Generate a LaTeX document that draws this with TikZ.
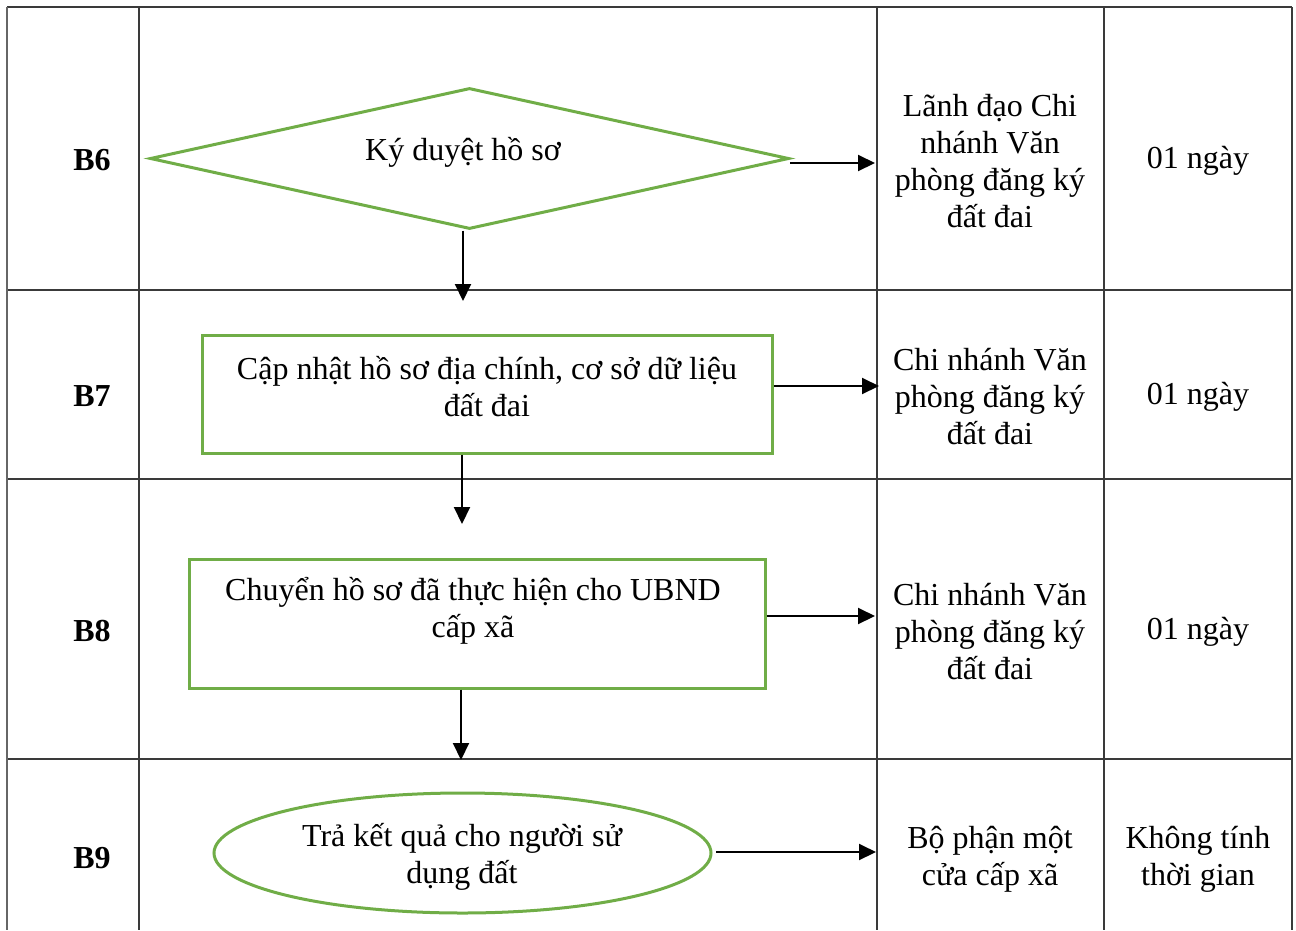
\documentclass[tikz,border=0pt]{standalone}
\usepackage{fontspec}
\setmainfont{Liberation Serif}
\usetikzlibrary{shapes.geometric,arrows.meta}
\definecolor{flowgreen}{HTML}{70AD47}
\definecolor{gridgray}{HTML}{3A3A3A}
\tikzset{
  txt/.style={font=\fontsize{32}{37}\selectfont, align=center, inner sep=0pt},
  steplabel/.style={font=\fontsize{32}{37}\selectfont\bfseries, inner sep=0pt},
  flowbox/.style={draw=flowgreen, line width=3pt, rectangle, inner sep=0pt},
  gridline/.style={draw=gridgray, line width=1.6pt},
  arr/.style={draw=black, line width=2pt, -{Triangle[length=17pt,width=16pt]}},
}
\begin{document}
\begin{tikzpicture}[x=1pt,y=-1pt]
\useasboundingbox (0,0) rectangle (1296,930);
% table grid
\draw[gridline] (7,7) -- (1292,7);
\draw[gridline] (7,290) -- (1292,290);
\draw[gridline] (7,479) -- (1292,479);
\draw[gridline] (7,759) -- (1292,759);
\draw[gridline, line width=2.2pt, draw=gray!80!black] (7,7) -- (7,930);
\draw[gridline] (139,7) -- (139,930);
\draw[gridline] (877,7) -- (877,930);
\draw[gridline] (1104,7) -- (1104,930);
\draw[gridline] (1292,7) -- (1292,930);

% step labels
\node[steplabel] (l6) at (92,160) {B6};
\node[steplabel] (l7) at (92,396) {B7};
\node[steplabel] (l8) at (92,631) {B8};
\node[steplabel] (l9) at (92,858) {B9};

% flow shapes
\node[diamond, draw=flowgreen, line width=3pt, minimum width=639pt, minimum height=141pt, inner sep=0pt] (d6) at (469.5,158.5) {};
\node[txt] (t6) at (463,152) {Ký duyệt hồ sơ};

\node[flowbox, minimum width=570pt, minimum height=118pt] (b7) at (487,394) {};
\node[txt] (t7) at (487,387) {Cập nhật hồ sơ địa chính, cơ sở dữ liệu\\đất đai};

\node[flowbox, minimum width=576pt, minimum height=129pt] (b8) at (477,623.5) {};
\node[txt] (t8) at (473,611) {Chuyển hồ sơ đã thực hiện cho UBND\\cấp xã};

\node[ellipse, draw=flowgreen, line width=3pt, minimum width=497pt, minimum height=120pt, inner sep=0pt] (e9) at (462.5,853) {};
\node[txt] (t9) at (462,857) {Trả kết quả cho người sử\\dụng đất};

% responsible units
\node[txt] (r6) at (990,161) {Lãnh đạo Chi\\nhánh Văn\\phòng đăng ký\\đất đai};
\node[txt] (r7) at (990,397) {Chi nhánh Văn\\phòng đăng ký\\đất đai};
\node[txt] (r8) at (990,632) {Chi nhánh Văn\\phòng đăng ký\\đất đai};
\node[txt] (r9) at (990,859) {Bộ phận một\\cửa cấp xã};

% durations
\node[txt] (p6) at (1198,161) {01 ngày};
\node[txt] (p7) at (1198,397) {01 ngày};
\node[txt] (p8) at (1198,632) {01 ngày};
\node[txt] (p9) at (1198,859) {Không tính\\thời gian};

% arrow end points
\coordinate (h6s) at (790,163);
\coordinate (h6e) at (875,163);
\coordinate (v6e) at (463,301);
\coordinate (h7e) at (879,386);
\coordinate (v7e) at (462,524);
\coordinate (h8e) at (875,616);
\coordinate (v8e) at (461,760);
\coordinate (h9s) at (716,852);
\coordinate (h9e) at (876,852);

% connectors
\draw[arr] (h6s) -- (h6e);
\draw[arr] (d6.south -| v6e) -- (v6e);
\draw[arr] (b7.east |- h7e) -- (h7e);
\draw[arr] (b7.south -| v7e) -- (v7e);
\draw[arr] (b8.east |- h8e) -- (h8e);
\draw[arr] (b8.south -| v8e) -- (v8e);
\draw[arr] (h9s) -- (h9e);
\end{tikzpicture}
\end{document}
